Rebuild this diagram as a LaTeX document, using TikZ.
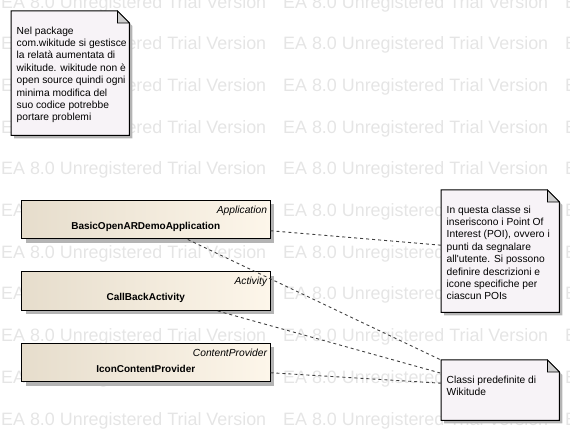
\documentclass[tikz,border=0pt]{standalone}
\usepackage{fontspec}
\setmainfont{Liberation Sans}
\usetikzlibrary{positioning,shadows,backgrounds}
\definecolor{boxleft}{RGB}{230,221,204}
\definecolor{boxright}{RGB}{253,246,234}
\definecolor{notefill}{RGB}{247,243,247}
\definecolor{foldgray}{RGB}{204,204,204}
\definecolor{shadegray}{RGB}{180,180,180}
\definecolor{wmgray}{RGB}{229,229,229}
\pgfdeclarelayer{watermark}
\pgfsetlayers{watermark,background,main}
\newcommand{\notefont}{\fontsize{10.25}{12.4}\selectfont}
% note outline with folded corner, drawn behind the note text
\newcommand{\dogear}[1]{%
	\begin{pgfonlayer}{background}
		\fill[shadegray] ([shift={(3,-3)}]#1.north west) -- ([shift={(-9,-3)}]#1.north east) -- ([shift={(3,-15)}]#1.north east) -- ([shift={(3,-3)}]#1.south east) -- ([shift={(3,-3)}]#1.south west) -- cycle;
		\filldraw[fill=notefill, draw=black, line width=1pt] (#1.north west) -- ([xshift=-12]#1.north east) -- ([yshift=-12]#1.north east) -- (#1.south east) -- (#1.south west) -- cycle;
		\filldraw[fill=foldgray, draw=black, line width=0.8pt] ([xshift=-12]#1.north east) -- ([yshift=-12]#1.north east) -- ([shift={(-12,-12)}]#1.north east) -- cycle;
	\end{pgfonlayer}}
\begin{document}
\begin{tikzpicture}[x=1pt, y=1pt,
	classbox/.style = {draw, line width=1pt, minimum width=248.5pt, minimum height=38.5pt, left color=boxleft, right color=boxright, drop shadow={shadow xshift=4pt, shadow yshift=-4pt, fill=shadegray, opacity=1}, font=\fontsize{10}{12}\selectfont\bfseries, text height=19.5pt, text depth=0pt},
	stereo/.style = {anchor=north east, inner sep=0pt, xshift=-3.3pt, yshift=-5.5pt, text height=7.5pt, text depth=2.2pt, font=\fontsize{10.25}{12}\selectfont\itshape},
	note/.style = {minimum width=118pt, inner sep=0pt, anchor=north west},
	notetext/.style = {anchor=north west, inner sep=0pt, xshift=5.5pt, yshift=-15.5pt, align=left, font=\notefont},
	conn/.style = {dash pattern=on 3pt off 3pt, line width=0.9pt, draw=black!75},
	wmark/.style = {anchor=base west, inner sep=0pt, text=wmgray, font=\fontsize{17.9}{20}\selectfont}]
	\useasboundingbox (0,0) rectangle (570,430);
	%% WATERMARK
	\begin{pgfonlayer}{watermark}
		\foreach \row in {0,...,10}
			\foreach \col in {1,283,565}
				\node[wmark] (wm-\row-\col) at (\col,{421.9-41.7*\row}) {EA 8.0 Unregistered Trial Version};
	\end{pgfonlayer}
	%% NODES
	% Notes
	\node[note, minimum height=124pt, label={[notetext]north west:{Nel package\\com.wikitude si gestisce\\la relatà aumentata di\\wikitude. wikitude non è\\open source quindi ogni\\minima modifica del\\suo codice potrebbe\\portare problemi}}] (pkgnote) at (11,419) {};
	\node[note, minimum height=122pt, label={[notetext]north west:{In questa classe si\\inseriscono i Point Of\\Interest (POI), ovvero i\\punti da segnalare\\all\textquotesingle utente. Si possono\\definire descrizioni e\\icone specifiche per\\ciascun POIs}}] (poinote) at (441,240) {};
	\node[note, minimum height=60pt, label={[notetext]north west:{Classi predefinite di\\Wikitude}}] (wikinote) at (441,70) {};
	\dogear{pkgnote}
	\dogear{poinote}
	\dogear{wikinote}
	% Classes
	\node[classbox, anchor=north west, label={[stereo]north east:Application}] (app) at (21,230) {BasicOpenARDemoApplication};
	\node[classbox, below=32pt of app, label={[stereo]north east:Activity}] (cb) {CallBackActivity};
	\node[classbox, below=32pt of cb, label={[stereo]north east:ContentProvider}] (icp) {IconContentProvider};
	%% CONNECTORS
	\draw[conn] ([yshift=-11pt]app.east) -- ([yshift=6pt]poinote.west);
	\draw[conn] ([xshift=42pt]app.south) -- (wikinote.north west);
	\draw[conn] ([xshift=72pt]cb.south) -- ([yshift=17pt]wikinote.west);
	\draw[conn] ([yshift=-10pt]icp.east) -- ([yshift=7pt]wikinote.west);
\end{tikzpicture}
\end{document}
